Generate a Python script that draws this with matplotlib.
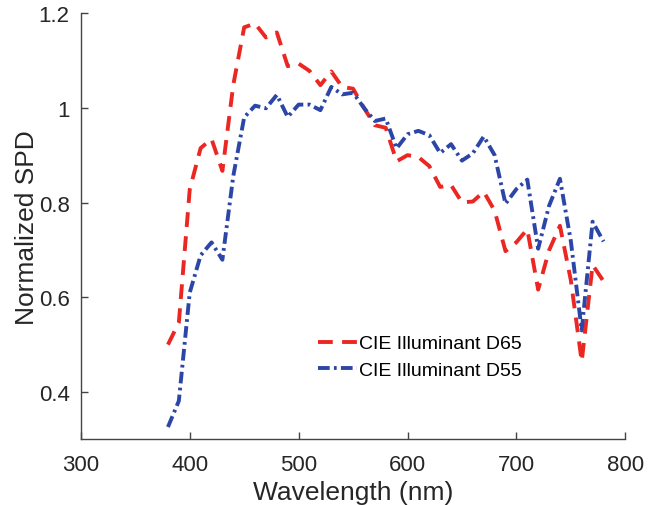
import matplotlib
matplotlib.use("Agg")
import matplotlib.pyplot as plt

# CIE daylight illuminants, 10 nm steps, normalized to 1 at 560 nm
wavelength = list(range(380, 781, 10))

d65 = [0.4998, 0.5465, 0.8275, 0.9149, 0.9343, 0.8668, 1.0486, 1.1701, 1.1781, 1.1486,
       1.1592, 1.0881, 1.0935, 1.0780, 1.0479, 1.0769, 1.0441, 1.0405, 1.0000, 0.9633,
       0.9579, 0.8869, 0.9001, 0.8960, 0.8770, 0.8329, 0.8370, 0.8003, 0.8021, 0.8228,
       0.7828, 0.6972, 0.7161, 0.7435, 0.6160, 0.6989, 0.7509, 0.6359, 0.4642, 0.6681,
       0.6338]

d55 = [0.3258, 0.3809, 0.6095, 0.6883, 0.7158, 0.6791, 0.8561, 0.9799, 1.0046, 0.9991,
       1.0274, 0.9808, 1.0068, 1.0069, 0.9951, 1.0442, 1.0284, 1.0319, 1.0000, 0.9722,
       0.9775, 0.9143, 0.9442, 0.9514, 0.9422, 0.9045, 0.9233, 0.8885, 0.9039, 0.9395,
       0.9002, 0.7973, 0.8284, 0.8484, 0.7024, 0.7930, 0.8502, 0.7188, 0.5298, 0.7596,
       0.7177]

x_ticks = [300, 400, 500, 600, 700, 800]
y_ticks = [0.4, 0.6, 0.8, 1.0, 1.2]
y_tick_labels = ["0.4", "0.6", "0.8", "1", "1.2"]

plt.rcParams["font.family"] = ["Liberation Sans", "DejaVu Sans"]

fig = plt.figure(figsize=(6.52, 5.06), dpi=100)
ax = fig.add_axes([0.124, 0.130, 0.835, 0.842])

ax.plot(wavelength, d65, color="#ea2722", lw=2.8, dashes=(3.8, 2.4),
        label="CIE Illuminant D65")
ax.plot(wavelength, d55, color="#2c46a8", lw=2.8, dashes=(3.0, 1.1, 0.7, 1.1),
        label="CIE Illuminant D55")

ax.set_xlim(300, 800)
ax.set_ylim(0.3, 1.2)
ax.set_xticks(x_ticks)
ax.set_yticks(y_ticks)
ax.set_yticklabels(y_tick_labels)

for side in ("top", "right"):
    ax.spines[side].set_visible(False)
for side in ("left", "bottom"):
    ax.spines[side].set_color("#444444")
    ax.spines[side].set_linewidth(1.0)

ax.tick_params(direction="in", length=5, width=1.0, color="#444444",
               labelsize=16, labelcolor="#262626", pad=8)
ax.tick_params(axis="x", pad=11)

ax.set_xlabel("Wavelength (nm)", fontsize=19, color="#262626", labelpad=3)
ax.set_ylabel("Normalized SPD", fontsize=19, color="#262626", labelpad=0)

ax.legend(loc="upper left", bbox_to_anchor=(0.436, 0.245), frameon=False,
          fontsize=14, handlelength=2.0, handletextpad=0.1,
          borderaxespad=0, borderpad=0, labelspacing=0.45)

fig.savefig("out.png", dpi=100)
